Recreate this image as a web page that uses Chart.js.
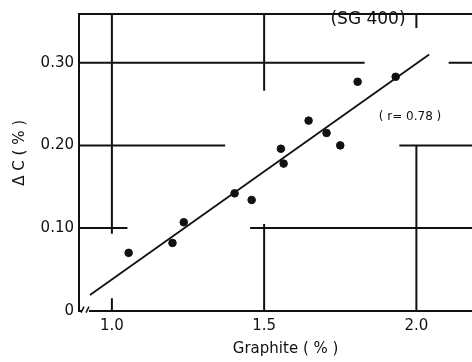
<!DOCTYPE html>
<html>
<head>
<meta charset="utf-8">
<script src="https://cdn.jsdelivr.net/npm/chart.js@4/dist/chart.umd.min.js"></script>
<style>
  html, body { margin: 0; padding: 0; background: #fff; overflow: hidden; }
  canvas { display: block; }
</style>
</head>
<body>
<canvas id="graphiteChart" width="497" height="362"></canvas>
<script>
// Graphite (%) vs delta C (%), SG 400
const graphite = [1.055, 1.199, 1.236, 1.403, 1.459, 1.555, 1.564, 1.646, 1.705, 1.750, 1.807, 1.932];
const deltaC   = [0.070, 0.082, 0.107, 0.142, 0.134, 0.196, 0.178, 0.230, 0.215, 0.200, 0.277, 0.283];

// regression line end points
const fitX = [0.928, 2.042];
const fitY = [0.019, 0.310];

const xTicks = [1.0, 1.5, 2.0];
const xTickLabels = ['1.0', '1.5', '2.0'];
const yTicks = [0, 0.1, 0.2, 0.3];
const yTickLabels = ['0', '0.10', '0.20', '0.30'];

// broken grid pieces, in data units (null = axis edge)
const vGrid = [[1.0, null, 0.093], [1.0, 0.015, 0], [1.5, null, 0.266], [1.5, 0.105, 0], [2.0, null, 0.342], [2.0, 0.201, 0]];
const hGrid = [[0.3, null, 1.830], [0.3, 2.106, null], [0.2, null, 1.372], [0.2, 1.944, null], [0.1, null, 1.051], [0.1, 1.454, null]];

const FONT = 'DejaVu Sans';

const brokenGrid = {
  id: 'brokenGrid',
  beforeDatasetsDraw(chart) {
    const {ctx, chartArea, scales: {x, y}} = chart;
    ctx.save();
    ctx.strokeStyle = '#111';
    ctx.lineWidth = 2;
    ctx.beginPath();
    vGrid.forEach(([v, a, b]) => {
      const px = x.getPixelForValue(v);
      ctx.moveTo(px, a === null ? chartArea.top : y.getPixelForValue(a));
      ctx.lineTo(px, b === null ? chartArea.top : y.getPixelForValue(b));
    });
    hGrid.forEach(([v, a, b]) => {
      const py = y.getPixelForValue(v);
      ctx.moveTo(a === null ? chartArea.left : x.getPixelForValue(a), py);
      ctx.lineTo(b === null ? chartArea.right : x.getPixelForValue(b), py);
    });
    // top frame
    ctx.moveTo(chartArea.left, chartArea.top);
    ctx.lineTo(chartArea.right, chartArea.top);
    ctx.stroke();
    ctx.restore();
  },
  afterDraw(chart) {
    const {ctx, chartArea} = chart;
    const bx = chartArea.left, by = chartArea.bottom;
    ctx.save();
    // axis break near origin
    ctx.fillStyle = '#fff';
    ctx.fillRect(bx + 3, by - 2, 7, 4);
    ctx.strokeStyle = '#111';
    ctx.lineWidth = 1.5;
    ctx.beginPath();
    ctx.moveTo(bx + 2, by + 2); ctx.lineTo(bx + 5, by - 4);
    ctx.moveTo(bx + 7, by + 2); ctx.lineTo(bx + 10, by - 4);
    ctx.stroke();
    // annotations
    ctx.fillStyle = '#111';
    ctx.textAlign = 'center';
    ctx.textBaseline = 'middle';
    ctx.font = '17px "' + FONT + '"';
    ctx.fillText('(SG 400)', 368, 20);
    ctx.font = '12px "' + FONT + '"';
    ctx.fillText('( r= 0.78 )', 410, 117);
    ctx.restore();
  }
};

const ctx = document.getElementById('graphiteChart').getContext('2d');

new Chart(ctx, {
  type: 'scatter',
  data: {
    datasets: [{
      data: graphite.map((g, i) => ({x: g, y: deltaC[i]})),
      backgroundColor: '#111',
      borderColor: '#111',
      pointRadius: 3.8,
      pointHoverRadius: 3.8
    }, {
      data: fitX.map((g, i) => ({x: g, y: fitY[i]})),
      showLine: true,
      borderColor: '#111',
      borderWidth: 1.8,
      pointRadius: 0,
      fill: false
    }]
  },
  options: {
    responsive: false,
    animation: false,
    layout: { padding: { top: 11, left: 0, right: 0, bottom: 0 } },
    plugins: {
      legend: { display: false },
      tooltip: { enabled: false }
    },
    scales: {
      x: {
        type: 'linear',
        min: 0.892,
        max: 2.249,
        afterBuildTicks: s => { s.ticks = xTicks.map(v => ({value: v})); },
        afterFit: s => { s.height = 51.3; },
        grid: { display: false, drawTicks: false },
        border: { display: true, color: '#111', width: 2 },
        ticks: {
          color: '#111',
          padding: 6,
          font: { family: FONT, size: 15 },
          callback: v => xTickLabels[xTicks.indexOf(v)]
        },
        title: {
          display: true,
          text: 'Graphite ( % )',
          color: '#111',
          font: { family: FONT, size: 15 },
          padding: { top: 0, bottom: 4 }
        }
      },
      y: {
        min: 0,
        max: 0.359,
        afterBuildTicks: s => { s.ticks = yTicks.map(v => ({value: v})); },
        afterFit: s => { s.width = 79; },
        grid: { display: false, drawTicks: false },
        border: { display: true, color: '#111', width: 2 },
        ticks: {
          color: '#111',
          padding: 5,
          font: { family: FONT, size: 15 },
          callback: v => yTickLabels[yTicks.indexOf(v)]
        },
        title: {
          display: true,
          text: '\u00a0\u00a0\u00a0\u00a0Δ C ( % )',
          color: '#111',
          font: { family: FONT, size: 15 },
          padding: { top: 11, bottom: 0 }
        }
      }
    }
  },
  plugins: [brokenGrid]
});
</script>
</body>
</html>
